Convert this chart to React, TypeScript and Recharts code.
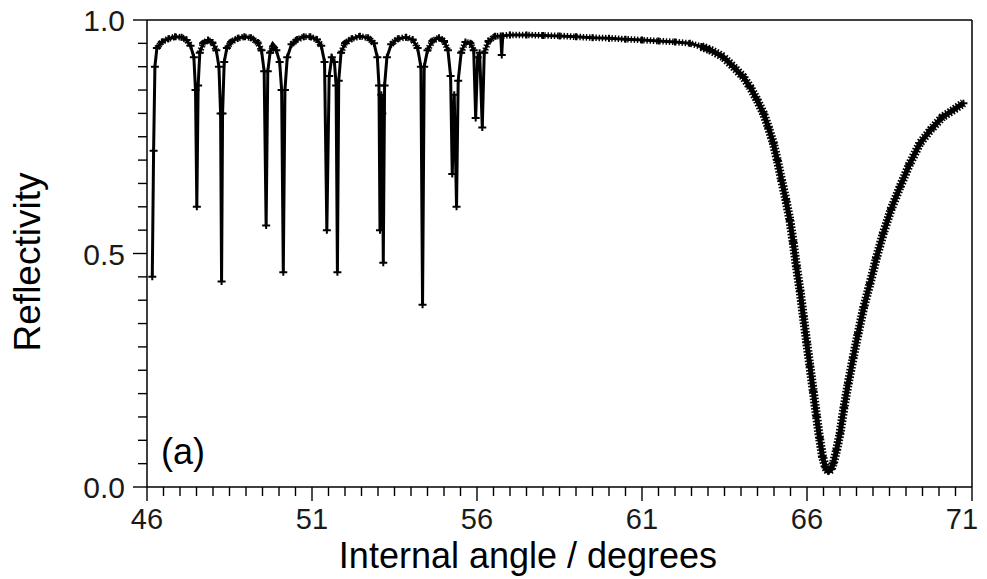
import React from 'react';
import { LineChart, Line, XAxis, YAxis, ReferenceLine } from 'recharts';

// Internal angle (degrees) of each measured point
const angles = [
  46.16, 46.2, 46.24, 46.3, 46.45, 46.65, 46.85, 47.05, 47.2, 47.32, 47.42, 47.47, 47.51, 47.55, 47.6, 47.7,
  47.85, 47.98, 48.1, 48.18, 48.23, 48.26, 48.29, 48.34, 48.42, 48.55, 48.75, 48.95, 49.15, 49.35, 49.47,
  49.55, 49.61, 49.66, 49.73, 49.82, 49.92, 50.02, 50.08, 50.13, 50.18, 50.25, 50.38, 50.55, 50.75, 50.95,
  51.15, 51.28, 51.38, 51.45, 51.52, 51.6, 51.68, 51.73, 51.77, 51.81, 51.88, 52.0, 52.2, 52.45, 52.7, 52.88,
  52.98, 53.03, 53.06, 53.1, 53.13, 53.16, 53.2, 53.27, 53.4, 53.6, 53.85, 54.05, 54.2, 54.3, 54.35, 54.4,
  54.5, 54.65, 54.85, 55.0, 55.12, 55.2, 55.25, 55.31, 55.38, 55.43, 55.52, 55.65, 55.8, 55.9, 55.96, 56.02,
  56.08, 56.16, 56.22, 56.35, 56.55, 56.72, 56.75, 56.78, 57.0, 57.5, 58.0, 58.5, 59.0, 59.5, 60.0, 60.5,
  61.0, 61.5, 62.0, 62.45, 62.8, 63.06, 63.46, 63.77, 64.07, 64.27, 64.48, 64.68, 64.83, 64.98, 65.1, 65.23,
  65.36, 65.48, 65.58, 65.68, 65.79, 65.89, 65.99, 66.09, 66.19, 66.29, 66.38, 66.47, 66.56, 66.65, 66.73,
  66.8, 66.9, 67.0, 67.12, 67.25, 67.4, 67.55, 67.72, 67.91, 68.1, 68.31, 68.55, 68.82, 69.1, 69.42, 69.75,
  70.1, 70.45, 70.74,
];

// Reflectivity read at each angle above
const reflectivity = [
  0.45, 0.72, 0.9, 0.94, 0.953, 0.96, 0.964, 0.963, 0.957, 0.945, 0.92, 0.85, 0.6, 0.86, 0.93, 0.95,
  0.957, 0.952, 0.935, 0.9, 0.8, 0.44, 0.8, 0.91, 0.94, 0.953, 0.961, 0.964, 0.962, 0.952, 0.935,
  0.89, 0.56, 0.89, 0.93, 0.943, 0.935, 0.91, 0.85, 0.46, 0.85, 0.92, 0.948, 0.958, 0.964, 0.964,
  0.958, 0.945, 0.91, 0.55, 0.88, 0.92, 0.91, 0.86, 0.46, 0.87, 0.93, 0.95, 0.96, 0.965, 0.962, 0.95,
  0.92, 0.86, 0.55, 0.84, 0.8, 0.48, 0.86, 0.92, 0.948, 0.96, 0.963, 0.958, 0.94, 0.9, 0.39, 0.9,
  0.935, 0.955, 0.962, 0.955, 0.935, 0.88, 0.67, 0.84, 0.6, 0.87, 0.93, 0.953, 0.95, 0.935, 0.79, 0.92,
  0.93, 0.77, 0.93, 0.955, 0.965, 0.966, 0.925, 0.966, 0.968, 0.968, 0.967, 0.966, 0.964, 0.962, 0.961, 0.959,
  0.957, 0.955, 0.953, 0.95, 0.943, 0.936, 0.921, 0.9, 0.878, 0.857, 0.83, 0.8, 0.77, 0.736, 0.7, 0.657,
  0.615, 0.572, 0.525, 0.472, 0.42, 0.365, 0.31, 0.258, 0.205, 0.151, 0.105, 0.065, 0.042, 0.033, 0.038,
  0.051, 0.08, 0.115, 0.17, 0.222, 0.277, 0.329, 0.385, 0.436, 0.49, 0.543, 0.595, 0.643, 0.69, 0.736, 0.765,
  0.792, 0.808, 0.822,
];

const xMajorTicks = [46, 51, 56, 61, 66, 71];
const yMajorTicks = [0.0, 0.5, 1.0];
const xMinorStep = 0.5;
const yMinorStep = 0.05;

const xTicks = Array.from({ length: 51 }, (_, i) => 46 + i * xMinorStep);
const yTicks = Array.from({ length: 21 }, (_, i) => Math.round(i * yMinorStep * 100) / 100);

const scan = angles.map((a, i) => ({ angle: a, r: reflectivity[i] }));
// upper (dome / plateau) part of the scan, where the dense markers thicken the trace
const upper = scan
  .filter((p) => p.angle >= 46.3 && p.angle <= 63.1)
  .map((p) => ({ angle: p.angle, r: p.r >= 0.93 ? p.r : null }));
const resonance = scan.filter((p) => p.angle >= 62.8);

const FONT = 'Liberation Sans, Arial, Helvetica, sans-serif';

const XTick = (props: any) => {
  const { x, y, payload } = props;
  const major = xMajorTicks.some((t) => Math.abs(t - payload.value) < 1e-6);
  const isLast = Math.abs(payload.value - xMajorTicks[xMajorTicks.length - 1]) < 1e-6;
  return (
    <g>
      <line x1={x} y1={y} x2={x} y2={y + (major ? 14 : 9)} stroke="#000" strokeWidth={1.4} />
      {major && (
        <text
          x={isLast ? x - 10 : x}
          y={y + 42}
          textAnchor="middle"
          fontSize={29}
          fontFamily={FONT}
          fill="#1a1a1a"
        >
          {payload.value}
        </text>
      )}
    </g>
  );
};

const YTick = (props: any) => {
  const { x, y, payload } = props;
  const major = yMajorTicks.some((t) => Math.abs(t - payload.value) < 1e-6);
  return (
    <g>
      <line x1={x} y1={y} x2={x - (major ? 14 : 9)} y2={y} stroke="#000" strokeWidth={1.4} />
      {major && (
        <text x={x - 22} y={y + 11} textAnchor="end" fontSize={30} fontFamily={FONT} fill="#1a1a1a">
          {payload.value.toFixed(1)}
        </text>
      )}
    </g>
  );
};

const CrossDot = (props: any) => {
  const { cx, cy, index } = props;
  if (cx == null || cy == null) return <g key={index} />;
  return (
    <path
      key={index}
      d={`M${cx - 4},${cy}h8M${cx},${cy - 3.5}v7`}
      stroke="#000"
      strokeWidth={2}
      fill="none"
    />
  );
};

export default function App() {
  return (
    <div style={{ position: 'absolute', left: 0, top: 0, width: 987, height: 579, background: '#fff' }}>
      <LineChart width={987} height={579} margin={{ top: 20, right: 15, bottom: 0, left: 0 }}>
        <XAxis
          dataKey="angle"
          type="number"
          domain={[46, 71]}
          ticks={xTicks}
          interval={0}
          height={92}
          tickLine={false}
          tickSize={0}
          tickMargin={0}
          tick={<XTick />}
          axisLine={{ stroke: '#000', strokeWidth: 1.5 }}
          allowDataOverflow
        />
        <YAxis
          type="number"
          domain={[0, 1]}
          ticks={yTicks}
          interval={0}
          width={147}
          tickLine={false}
          tickSize={0}
          tickMargin={0}
          tick={<YTick />}
          axisLine={{ stroke: '#000', strokeWidth: 1.5 }}
          allowDataOverflow
        />
        <ReferenceLine y={1} stroke="#000" strokeWidth={1.5} />
        <ReferenceLine x={71} stroke="#000" strokeWidth={1.5} />
        <Line
          data={scan}
          dataKey="r"
          type="linear"
          stroke="#000"
          strokeWidth={3}
          dot={CrossDot}
          activeDot={false}
          isAnimationActive={false}
        />
        <Line
          data={upper}
          dataKey="r"
          type="linear"
          stroke="#000"
          strokeWidth={6.5}
          strokeDasharray="1.4 1.8"
          connectNulls={false}
          dot={false}
          activeDot={false}
          isAnimationActive={false}
        />
        <Line
          data={resonance}
          dataKey="r"
          type="linear"
          stroke="#000"
          strokeWidth={5}
          dot={false}
          activeDot={false}
          isAnimationActive={false}
        />
        <Line
          data={resonance}
          dataKey="r"
          type="linear"
          stroke="#000"
          strokeWidth={9}
          strokeDasharray="1.6 1.6"
          dot={false}
          activeDot={false}
          isAnimationActive={false}
        />
        <text
          x={40}
          y={262}
          transform="rotate(-90 40 262)"
          textAnchor="middle"
          fontSize={37}
          fontFamily={FONT}
          fill="#000"
        >
          Reflectivity
        </text>
        <text x={528} y={568} textAnchor="middle" fontSize={36} fontFamily={FONT} fill="#000">
          Internal angle / degrees
        </text>
        <text x={161} y={464} fontSize={36} fontFamily={FONT} fill="#000">
          (a)
        </text>
      </LineChart>
    </div>
  );
}
